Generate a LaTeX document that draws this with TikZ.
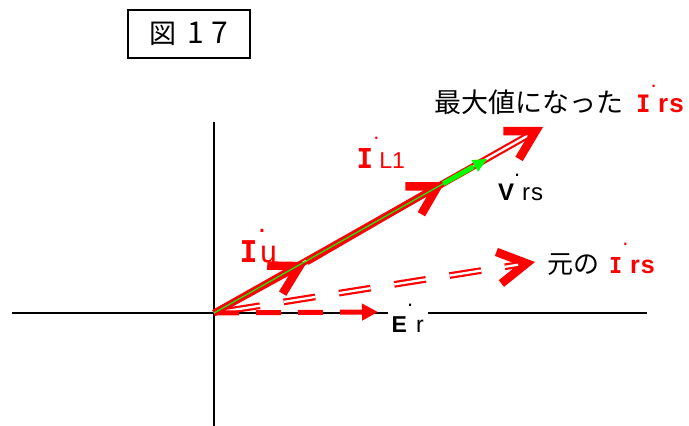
\documentclass[tikz,border=0pt]{standalone}
\usepackage{fontspec}
\setmainfont{Liberation Sans}
\setmonofont{DejaVu Sans Mono}
\newfontfamily\jpfont{Noto Sans CJK JP}
\usetikzlibrary{arrows.meta,calc}
\newcommand{\phdot}[1][27pt]{\rlap{\raisebox{#1}{\normalfont .}}}
\newcommand{\bigI}{\texttt{\bfseries I}}

\begin{document}
\begin{tikzpicture}[x=1pt, y=-1pt,
    every node/.append style={inner sep=0pt, anchor=base west, font=\fontsize{22}{22}\selectfont},
    barb/.style={-{Straight Barb[length=28pt, width=32pt, line width'=8.5pt]}}]
  \tikzstyle{axis} = [draw=black, line width=1.5pt]
  \tikzstyle{curr} = [draw=red, line width=6.5pt]
  \tikzstyle{twin} = [draw=red, line width=2.2pt, double=white, double distance=2.3pt]
  \useasboundingbox (0,0) rectangle (689,426);

  % title
  \node (fig) [draw, line width=1.5pt, anchor=center, minimum width=122pt, minimum height=48pt]
    at (189,34) {\jpfont\fontsize{27}{27}\selectfont 図\hspace{11pt}{\fontsize{30}{30}\selectfont 1\hspace{8pt}7}\hspace{9pt}};

  % axes
  \coordinate (O) at (214,313);
  \coordinate (xl) at (12,313);
  \coordinate (xr) at (647,313);
  \coordinate (yt) at (214,122);
  \coordinate (yb) at (214,426);
  \draw[axis] (xl) -- (xr);
  \draw[axis] (yt) -- (yb);

  % vector tips
  \coordinate (Iu) at (307,262);
  \coordinate (IL) at (445,182);
  \coordinate (Vrs) at (487,159);
  \coordinate (Imax) at (543,127);
  \coordinate (Iold) at (535,262);
  \coordinate (Er) at (378,312);

  % original Irs, dashed
  \draw[red, line width=0.1pt, barb] ($(Iold)!2pt!(O)$) -- (Iold);
  \draw[twin, dash pattern=on 32pt off 24pt, dash phase=41.5pt] (O) -- ($(O)!308pt!(Iold)$);
  % Er
  \draw[red, line width=5pt, dash pattern=on 25pt off 17pt,
    -{Triangle[length=16pt, width=16pt]}] (O) -- (Er);
  % Irs at its maximum
  \draw[twin] (O) -- ($(Imax)!6pt!(O)$);
  \draw[red, line width=0.1pt, barb] ($(Imax)!2pt!(O)$) -- (Imax);
  % Iu and IL1
  \draw[curr, barb] (O) -- (Iu);
  \draw[curr, barb] (Iu) -- (IL);
  % Vrs
  \draw[green, line width=1.2pt, -{Triangle[length=14pt, width=13pt]}] (O) -- (Vrs);
  \draw[green, line width=5pt] ($(O)!0.84!(Vrs)$) -- ($(O)!0.95!(Vrs)$);

  % labels
  \node (lmax) at (434,112) {{\jpfont\fontsize{27}{27}\selectfont 最大値になった}\hspace{13pt}%
    \textcolor{red}{{\fontsize{24}{24}\selectfont\bigI}\phdot[25pt]\hspace{7.5pt}{\fontsize{26}{26}\selectfont\bfseries r\kern1pt s}}};
  \node (lL) at (356.5,168) {\textcolor{red}{{\fontsize{27.5}{27.5}\selectfont\bigI}\phdot[28.5pt]\hspace{6pt}{\fontsize{23}{23}\selectfont L1}}};
  \node (lV) at (498,200) {{\fontsize{24}{24}\selectfont\bfseries V}\phdot[23.5pt]\hspace{8pt}{\fontsize{24}{24}\selectfont r\kern1pt s}};
  \node (lu) at (239.5,262) {\textcolor{red}{\fontsize{30}{30}\selectfont\bigI\phdot[30pt]\hspace{1.5pt}\texttt{u}}};
  \node (lold) at (547,273) {{\jpfont\fontsize{26}{26}\selectfont 元の}\hspace{10pt}%
    \textcolor{red}{{\fontsize{22}{22}\selectfont\bigI}\phdot[28pt]\hspace{7.8pt}{\fontsize{25}{25}\selectfont\bfseries r\kern1pt s}}};
  \node (lE) [fill=white, inner xsep=4pt, inner ysep=3pt] at (387.5,332) {{\fontsize{23}{23}\selectfont\bfseries E}\phdot[25.5pt]\hspace{9pt}{\fontsize{23}{23}\selectfont r}};
\end{tikzpicture}
\end{document}
